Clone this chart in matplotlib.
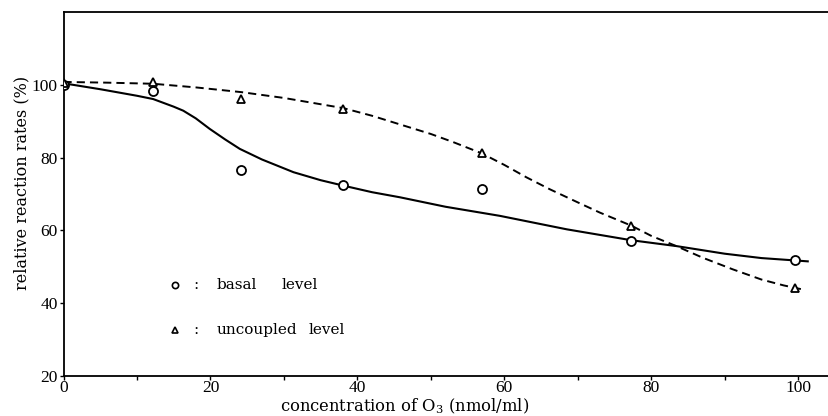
import matplotlib
matplotlib.use("Agg")
import matplotlib.pyplot as plt
from matplotlib.ticker import MultipleLocator

plt.rcParams['font.family'] = ['Liberation Serif', 'DejaVu Serif']
plt.rcParams['mathtext.fontset'] = 'custom'
plt.rcParams['mathtext.rm'] = 'DejaVu Serif'

# measured points
conc = [0, 12.2, 24.2, 38.0, 56.9, 77.3, 99.6]
basal = [100, 98.2, 76.6, 72.5, 71.3, 57.1, 51.8]
uncoupled = [100.4, 100.7, 96.0, 93.4, 81.4, 61.3, 44.1]

# hand-drawn fit curves
basal_curve_x = [0.4, 5, 10, 12.2, 15, 16.3, 18, 19.9, 22, 24, 27, 31.3, 35, 38.1, 42, 45.8,
                 52, 59.4, 68.5, 77.3, 83.4, 90, 95, 101.3]
basal_curve_y = [100.3, 98.8, 97.0, 96.1, 94.0, 92.9, 90.8, 87.9, 85.0, 82.4, 79.5, 76.0, 73.8,
                 72.3, 70.5, 69.1, 66.5, 64.0, 60.3, 57.3, 55.7, 53.6, 52.4, 51.5]
unc_curve_x = [0, 6, 12.2, 18, 24.2, 30, 38.1, 42, 46, 50, 53, 56.9, 60, 63, 66.2, 70, 73,
               77.3, 80, 83.4, 87, 91.1, 95, 98, 101]
unc_curve_y = [100.8, 100.6, 100.3, 99.3, 98.0, 96.4, 93.6, 91.5, 89.0, 86.5, 84.3, 81.2, 78.0,
               74.6, 71.3, 67.7, 64.9, 61.3, 58.5, 55.7, 52.5, 49.3, 46.5, 44.9, 43.6]

xticks = [0, 20, 40, 60, 80, 100]
yticks = [20, 40, 60, 80, 100]

fig = plt.figure(figsize=(8.29, 4.16), dpi=100)
ax = fig.add_axes([0.0766, 0.0962, 0.9217, 0.8748])

ax.plot(basal_curve_x, basal_curve_y, color='black', lw=1.5, zorder=2)
ax.plot(unc_curve_x, unc_curve_y, color='black', lw=1.4, ls=(0, (4.2, 2.6)), zorder=2)

ax.plot(conc, basal, ls='none', marker='o', ms=6.5, mfc='white', mec='black', mew=1.3, zorder=3)
ax.plot(conc, uncoupled, ls='none', marker='^', ms=5.5, mfc='white', mec='black', mew=1.3, zorder=3)

ax.set_xlim(0, 104)
ax.set_ylim(20, 120)
ax.set_xticks(xticks)
ax.set_yticks(yticks)
ax.xaxis.set_minor_locator(MultipleLocator(10))
ax.tick_params(axis='both', which='both', direction='out', length=3, width=1,
               labelsize=12.5, pad=1)
ax.tick_params(axis='x', which='both', pad=0)
for s in ax.spines.values():
    s.set_linewidth(1.3)
ax.spines['right'].set_visible(False)

ax.set_xlabel('concentration of O$_{3}$ (nmol/ml)', fontsize=11.8, family='DejaVu Serif')
ax.xaxis.set_label_coords(0.447, -0.056)
ax.set_ylabel('relative reaction rates (%)', fontsize=11.5, family='DejaVu Serif')
ax.yaxis.set_label_coords(-0.044, 0.53)

# legend
row1, row2 = 0.251, 0.125
ax.plot([0.146], [row1], transform=ax.transAxes, marker='o', ms=4.5, mfc='white',
        mec='black', mew=1.2, ls='none')
ax.plot([0.146], [row2], transform=ax.transAxes, marker='^', ms=4.2, mfc='white',
        mec='black', mew=1.2, ls='none')
for y, words, xs in [(row1, [':', 'basal', 'level'], [0.1695, 0.2005, 0.2856]),
                     (row2, [':', 'uncoupled', 'level'], [0.1695, 0.2005, 0.3213])]:
    for w, x in zip(words, xs):
        ax.text(x, y, w, transform=ax.transAxes, fontsize=11, va='center', ha='left',
                family='DejaVu Serif')

fig.savefig('out.png', dpi=100)
